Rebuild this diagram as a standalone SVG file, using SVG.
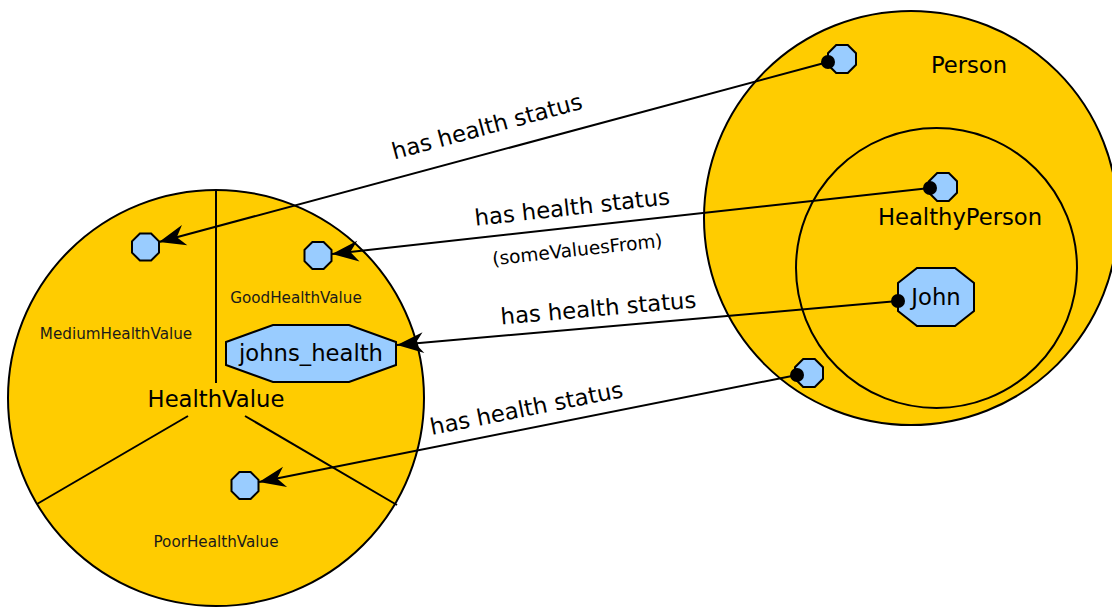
<svg xmlns="http://www.w3.org/2000/svg" width="1112" height="608" viewBox="0 0 1112 608">
<style>
.cls{fill:#ffcc00;stroke:#000;stroke-width:2}
.ring{fill:none;stroke:#000;stroke-width:2}
.ind{fill:#99ccff;stroke:#000;stroke-width:2;stroke-linejoin:miter}
.div{stroke:#000;stroke-width:2;fill:none}
.t{font-family:"DejaVu Sans",sans-serif;fill:#000;text-anchor:middle}
.big{font-size:22.7px}
.small{font-size:15.2px;fill:#1a1a1a}
.lbl{font-size:22.7px}
.sub{font-size:18.5px}
.conn{stroke:#000;stroke-width:2;fill:none}
.dot{fill:#000}
</style>
<defs>
<marker id="arr" markerUnits="userSpaceOnUse" markerWidth="30" markerHeight="24" viewBox="-24 -10 26 20" refX="0" refY="0" orient="auto">
<path d="M0,0 L-23,-9 L-16,0 L-23,9 Z" fill="#000"/>
</marker>
</defs>
<rect width="1112" height="608" fill="#fff"/>

<g id="HealthValue">
<circle class="cls" cx="216" cy="398" r="208"/>
<line class="div" x1="216" y1="190" x2="216" y2="383"/>
<line class="div" x1="188" y1="416" x2="37" y2="504"/>
<line class="div" x1="245" y1="416" x2="397" y2="505"/>
<text class="t big" x="216" y="407">HealthValue</text>
</g>
<g id="GoodHealthValue"><text class="t small" x="296" y="303">GoodHealthValue</text></g>
<g id="MediumHealthValue"><text class="t small" x="116" y="339">MediumHealthValue</text></g>
<g id="PoorHealthValue"><text class="t small" x="216" y="547">PoorHealthValue</text></g>

<g id="Person">
<circle class="cls" cx="911" cy="218" r="207"/>
<text class="t big" x="969" y="73">Person</text>
</g>
<g id="HealthyPerson">
<ellipse class="ring" cx="936.5" cy="268" rx="140.5" ry="140"/>
<text class="t big" x="960" y="225">HealthyPerson</text>
</g>

<g id="medium_ind"><polygon class="ind" transform="translate(145.5,247)" points="-5.6,-13.5 5.6,-13.5 13.5,-5.6 13.5,5.6 5.6,13.5 -5.6,13.5 -13.5,5.6 -13.5,-5.6"/></g>
<g id="good_ind"><polygon class="ind" transform="translate(318,255.5)" points="-5.6,-13.5 5.6,-13.5 13.5,-5.6 13.5,5.6 5.6,13.5 -5.6,13.5 -13.5,5.6 -13.5,-5.6"/></g>
<g id="poor_ind"><polygon class="ind" transform="translate(245,485.5)" points="-5.6,-13.5 5.6,-13.5 13.5,-5.6 13.5,5.6 5.6,13.5 -5.6,13.5 -13.5,5.6 -13.5,-5.6"/></g>
<g id="johns_health">
<polygon class="ind" transform="translate(311,353.5)" points="-38,-28.5 38,-28.5 85,-11.5 85,11.5 38,28.5 -38,28.5 -85,11.5 -85,-11.5"/>
<text class="t big" x="311" y="361">johns_health</text>
</g>

<g id="person_ind"><polygon class="ind" transform="translate(842,59)" points="-5.8,-14 5.8,-14 14,-5.8 14,5.8 5.8,14 -5.8,14 -14,5.8 -14,-5.8"/></g>
<g id="healthy_ind"><polygon class="ind" transform="translate(943,187)" points="-5.8,-14 5.8,-14 14,-5.8 14,5.8 5.8,14 -5.8,14 -14,5.8 -14,-5.8"/></g>
<g id="other_ind"><polygon class="ind" transform="translate(809,373)" points="-5.8,-14 5.8,-14 14,-5.8 14,5.8 5.8,14 -5.8,14 -14,5.8 -14,-5.8"/></g>
<g id="John">
<polygon class="ind" transform="translate(936,297)" points="-19,-29 19,-29 38,-14 38,14 19,29 -19,29 -38,14 -38,-14"/>
<text class="t big" x="936" y="305">John</text>
</g>

<g id="connectors">
<line class="conn" x1="828" y1="62" x2="159" y2="242" marker-end="url(#arr)"/>
<line class="conn" x1="930" y1="188" x2="332" y2="254" marker-end="url(#arr)"/>
<line class="conn" x1="898" y1="301" x2="397" y2="345" marker-end="url(#arr)"/>
<line class="conn" x1="797" y1="375" x2="259" y2="482" marker-end="url(#arr)"/>
<circle class="dot" cx="828" cy="62" r="7"/>
<circle class="dot" cx="930" cy="188" r="7"/>
<circle class="dot" cx="898" cy="301" r="7"/>
<circle class="dot" cx="797" cy="375" r="7"/>
<text class="t lbl" x="489" y="134" transform="rotate(-15.06 489 134)">has health status</text>
<text class="t lbl" x="573" y="215" transform="rotate(-6.3 573 215)">has health status</text>
<text class="t sub" x="578" y="256" transform="rotate(-6.3 578 256)">(someValuesFrom)</text>
<text class="t lbl" x="599" y="316" transform="rotate(-5 599 316)">has health status</text>
<text class="t lbl" x="528" y="416" transform="rotate(-11.25 528 416)">has health status</text>
</g>
</svg>
